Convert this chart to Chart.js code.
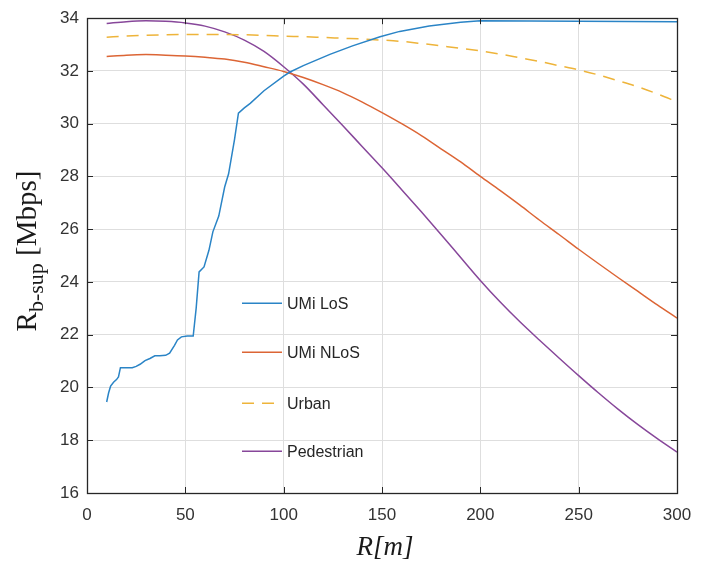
<!DOCTYPE html>
<html>
<head>
<meta charset="utf-8">
<script src="https://cdn.jsdelivr.net/npm/chart.js@4.4.0/dist/chart.umd.min.js"></script>
<style>
html,body{margin:0;padding:0;background:#fff;}
#wrap{width:718px;height:564px;}
</style>
</head>
<body>
<div id="wrap"><canvas id="c" width="718" height="564"></canvas></div>
<script>
// ---------- data ----------
const seriesNames = ['UMi LoS', 'UMi NLoS', 'Urban', 'Pedestrian'];
const seriesColors = ['#2a84c6', '#dc6535', '#eeb43a', '#87479a'];
const xTicks = [0, 50, 100, 150, 200, 250, 300];
const yTicks = [16, 18, 20, 22, 24, 26, 28, 30, 32, 34];

const losR = [10, 11, 12, 13.5, 15, 16, 17, 20, 23, 25, 27, 29.5, 32, 34.5, 37, 40, 42, 44.5, 46, 48, 51, 54, 55.5, 57, 59.5, 62, 64, 67, 70, 72, 75, 77, 80, 83, 90, 100, 103, 110, 123.5, 135, 149, 159, 174, 190, 200, 250, 300];
const losRate = [19.45, 19.8, 20.05, 20.2, 20.3, 20.4, 20.75, 20.75, 20.75, 20.8, 20.88, 21.02, 21.1, 21.2, 21.2, 21.22, 21.3, 21.6, 21.8, 21.92, 21.95, 21.95, 23.0, 24.38, 24.57, 25.2, 25.9, 26.5, 27.6, 28.1, 29.4, 30.4, 30.6, 30.77, 31.25, 31.8, 31.95, 32.2, 32.63, 32.95, 33.3, 33.5, 33.7, 33.85, 33.9, 33.88, 33.87];

const gridR = [10, 20, 30, 40, 50, 60, 70, 80, 90, 100, 110, 120, 130, 140, 150, 160, 170, 180, 190, 200, 210, 220, 230, 240, 250, 260, 270, 280, 290, 300];
const nlosRate = [32.55, 32.6, 32.62, 32.6, 32.57, 32.52, 32.45, 32.33, 32.16, 31.98, 31.75, 31.48, 31.18, 30.82, 30.42, 30.0, 29.55, 29.05, 28.55, 28.0, 27.47, 26.92, 26.35, 25.8, 25.24, 24.7, 24.17, 23.65, 23.13, 22.63];
const urbanRate = [33.28, 33.32, 33.35, 33.37, 33.38, 33.38, 33.38, 33.37, 33.35, 33.32, 33.3, 33.27, 33.24, 33.21, 33.17, 33.12, 33.04, 32.95, 32.86, 32.76, 32.64, 32.5, 32.36, 32.2, 32.04, 31.85, 31.63, 31.4, 31.13, 30.83];
const pedRate = [33.8, 33.87, 33.9, 33.88, 33.82, 33.7, 33.48, 33.17, 32.74, 32.16, 31.5, 30.72, 29.93, 29.13, 28.33, 27.5, 26.66, 25.8, 24.93, 24.06, 23.25, 22.5, 21.8, 21.12, 20.45, 19.8, 19.18, 18.6, 18.06, 17.55];

// ---------- build ----------
const pts = (xs, ys) => xs.map((v, i) => ({x: v, y: ys[i]}));
const dashes = [[], [], [12, 8], []];
const seriesData = [pts(losR, losRate), pts(gridR, nlosRate), pts(gridR, urbanRate), pts(gridR, pedRate)];

const datasets = seriesNames.map((n, i) => ({
  label: n,
  data: seriesData[i],
  borderColor: seriesColors[i],
  backgroundColor: seriesColors[i],
  borderWidth: 1.5,
  borderDash: dashes[i],
  pointRadius: 0,
  fill: false,
  tension: 0,
  cubicInterpolationMode: i === 0 ? 'default' : 'monotone'
}));

const TEXT = '#333333';
const GRID = '#dedede';
const AXIS = '#262626';

const framePlugin = {
  id: 'frame',
  beforeDraw(chart) {
    const ctx = chart.ctx;
    ctx.save();
    ctx.fillStyle = '#ffffff';
    ctx.fillRect(0, 0, chart.width, chart.height);
    ctx.restore();
  },
  afterDraw(chart) {
    const {ctx, chartArea: a, scales: {x, y}} = chart;
    ctx.save();
    // inward tick marks
    ctx.strokeStyle = AXIS;
    ctx.lineWidth = 1;
    ctx.beginPath();
    xTicks.forEach(v => {
      const px = Math.round(x.getPixelForValue(v)) + 0.5;
      ctx.moveTo(px, a.bottom); ctx.lineTo(px, a.bottom - 6);
      ctx.moveTo(px, a.top); ctx.lineTo(px, a.top + 6);
    });
    yTicks.forEach(v => {
      const py = Math.round(y.getPixelForValue(v)) + 0.5;
      ctx.moveTo(a.left, py); ctx.lineTo(a.left + 6, py);
      ctx.moveTo(a.right, py); ctx.lineTo(a.right - 6, py);
    });
    ctx.stroke();
    // box
    ctx.lineWidth = 1.3;
    ctx.strokeRect(Math.round(a.left) + 0.5, Math.round(a.top) + 0.5,
                   Math.round(a.right - a.left), Math.round(a.bottom - a.top));

    // legend (inside the axes, no box)
    const rowY = [285, 334, 385, 433];
    ctx.font = '16px "Liberation Sans", Arial, sans-serif';
    ctx.textBaseline = 'middle';
    ctx.textAlign = 'left';
    chart.data.datasets.forEach((ds, i) => {
      const yy = a.top + rowY[i];
      const x0 = a.left + 155, x1 = a.left + 195;
      ctx.strokeStyle = ds.borderColor;
      ctx.lineWidth = 1.5;
      ctx.setLineDash(ds.borderDash || []);
      ctx.beginPath(); ctx.moveTo(x0, yy); ctx.lineTo(x1, yy); ctx.stroke();
      ctx.setLineDash([]);
      ctx.fillStyle = '#262626';
      ctx.fillText(ds.label, x1 + 5, yy + 1);
    });

    // x title
    ctx.fillStyle = '#1a1a1a';
    ctx.font = 'italic 27px "Liberation Serif", "Times New Roman", serif';
    ctx.textAlign = 'center';
    ctx.textBaseline = 'alphabetic';
    ctx.fillText('R[m]', (a.left + a.right) / 2 + 3, 555);

    // y title: R_{b-sup} [Mbps]
    const mainFont = '29px "Liberation Serif", "Times New Roman", serif';
    const subFont = '22px "Liberation Serif", "Times New Roman", serif';
    ctx.font = mainFont; const wR = ctx.measureText('R').width;
    const wM = ctx.measureText(' [Mbps]').width;
    ctx.font = subFont; const wS = ctx.measureText('b-sup').width;
    const total = wR + wS + wM;
    const cy = 251;
    ctx.translate(36, cy + total / 2);
    ctx.rotate(-Math.PI / 2);
    ctx.textAlign = 'left';
    ctx.font = mainFont; ctx.fillText('R', 0, 0);
    ctx.font = subFont; ctx.fillText('b-sup', wR, 7);
    ctx.font = mainFont; ctx.fillText(' [Mbps]', wR + wS, 0);
    ctx.restore();
  }
};

new Chart(document.getElementById('c'), {
  type: 'line',
  data: {datasets},
  options: {
    responsive: false,
    animation: false,
    devicePixelRatio: 1,
    layout: {padding: {top: 10, right: 41, left: 0, bottom: 0}},
    plugins: {legend: {display: false}, tooltip: {enabled: false}},
    scales: {
      x: {
        type: 'linear', min: 0, max: 300,
        afterBuildTicks: s => { s.ticks = xTicks.map(v => ({value: v})); },
        afterFit: s => { s.height = 71; },
        grid: {color: GRID, lineWidth: 1, drawTicks: false},
        border: {display: false},
        ticks: {color: TEXT, padding: 12, maxRotation: 0, font: {family: '"Liberation Sans", Arial, sans-serif', size: 17}}
      },
      y: {
        type: 'linear', min: 16, max: 34,
        afterBuildTicks: s => { s.ticks = yTicks.map(v => ({value: v})); },
        afterFit: s => { s.width = 87; },
        grid: {color: GRID, lineWidth: 1, drawTicks: false},
        border: {display: false},
        ticks: {color: TEXT, padding: 8, font: {family: '"Liberation Sans", Arial, sans-serif', size: 17}}
      }
    }
  },
  plugins: [framePlugin]
});
</script>
</body>
</html>
